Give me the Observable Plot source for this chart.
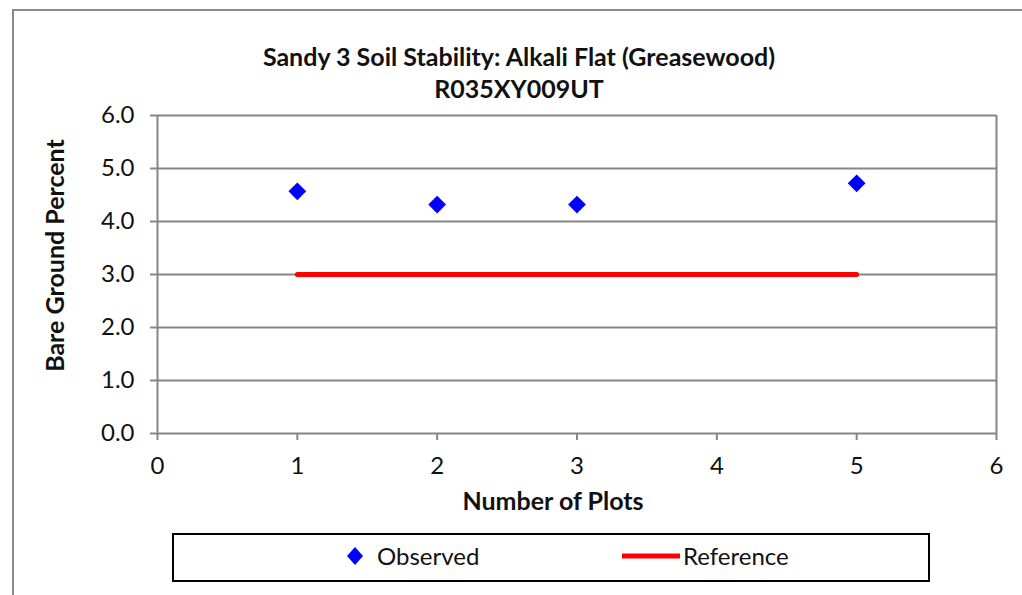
<!DOCTYPE html>
<html>
<head>
<meta charset="utf-8">
<script src="https://cdn.jsdelivr.net/npm/d3@7"></script>
<script src="https://cdn.jsdelivr.net/npm/@observablehq/plot@0.6"></script>
<style>
  html, body { margin: 0; padding: 0; background: #fff; }
  body { width: 1022px; height: 595px; position: relative; overflow: hidden; font-family: Lato, "Open Sans", sans-serif; color: #111; }
  #frame { position: absolute; left: 12px; top: 9px; width: 1040px; height: 620px; border: 2px solid #8a8a8a; box-sizing: border-box; }
  .title { position: absolute; left: 0; width: 1038px; text-align: center; font-weight: bold; font-size: 25px; line-height: 28px; }
  #chart { position: absolute; left: 0; top: 100px; }
  #legend { position: absolute; left: 172px; top: 533px; width: 758px; height: 49px; border: 2px solid #000; box-sizing: border-box; }
  .lg { position: absolute; font-size: 24px; line-height: 28px; top: 7px; }
</style>
</head>
<body>
<div id="frame"></div>
<div class="title" style="top:42px">Sandy 3 Soil Stability: Alkali Flat (Greasewood)</div>
<div class="title" style="top:74px">R035XY009UT</div>
<div id="chart"></div>
<div id="legend">
  <svg style="position:absolute;left:172px;top:12px" width="18" height="18"><path d="M9,0 L17,9 L9,18 L1,9 Z" fill="#0000ff"/></svg>
  <div class="lg" style="left:203px">Observed</div>
  <svg style="position:absolute;left:448px;top:17px" width="60" height="8"><line x1="0" x2="58" y1="4" y2="4" stroke="#ff0000" stroke-width="5"/></svg>
  <div class="lg" style="left:509px">Reference</div>
</div>
<script>
const plotNumbers = [1, 2, 3, 5];
const observed = [4.57, 4.32, 4.32, 4.72];
const refPlots = [1, 2, 3, 4, 5];
const refValues = [3.0, 3.0, 3.0, 3.0, 3.0];
const xTicks = [0, 1, 2, 3, 4, 5, 6];
const yTicks = [0, 1, 2, 3, 4, 5, 6];
const xTitle = "Number of Plots";
const yTitle = "Bare Ground Percent";

const obsData = plotNumbers.map((x, i) => ({x, y: observed[i]}));
const refData = refPlots.map((x, i) => ({x, y: refValues[i]}));
const grid = "#868686";

const chart = Plot.plot({
  width: 1022,
  height: 420,
  marginLeft: 157,
  marginRight: 26,
  marginTop: 15,
  marginBottom: 87,
  style: {fontFamily: "Lato, 'Open Sans', sans-serif", fontSize: "24px", color: "#111", background: "transparent", overflow: "visible"},
  x: {domain: [0, 6]},
  y: {domain: [0, 6]},
  marks: [
    Plot.gridY(yTicks, {stroke: grid, strokeOpacity: 1, strokeWidth: 2}),
    Plot.ruleX([6], {stroke: grid, strokeWidth: 2}),
    Plot.ruleX([0], {stroke: grid, strokeWidth: 2}),
    Plot.axisY({ticks: yTicks, tickSize: 7, tickPadding: 16, tickFormat: d => d.toFixed(1), stroke: grid, strokeWidth: 2, fontSize: 24, label: null}),
    Plot.axisX({ticks: xTicks, tickSize: 7, tickPadding: 16, tickFormat: d => String(d), stroke: grid, strokeWidth: 2, fontSize: 24, label: null}),
    Plot.lineY(refData, {x: "x", y: "y", stroke: "#ff0000", strokeWidth: 5, strokeLinecap: "round"}),
    Plot.dot(obsData, {x: "x", y: "y", symbol: "diamond2", r: 8, fill: "#0000ff", stroke: "none"}),
    Plot.text([xTitle], {frameAnchor: "bottom", dy: 76, dx: -24, fontWeight: "bold", fontSize: 25}),
    Plot.text([yTitle], {frameAnchor: "left", textAnchor: "middle", rotate: -90, dx: -102, dy: -19, fontWeight: "bold", fontSize: 25})
  ]
});
document.getElementById("chart").appendChild(chart);
</script>
</body>
</html>
